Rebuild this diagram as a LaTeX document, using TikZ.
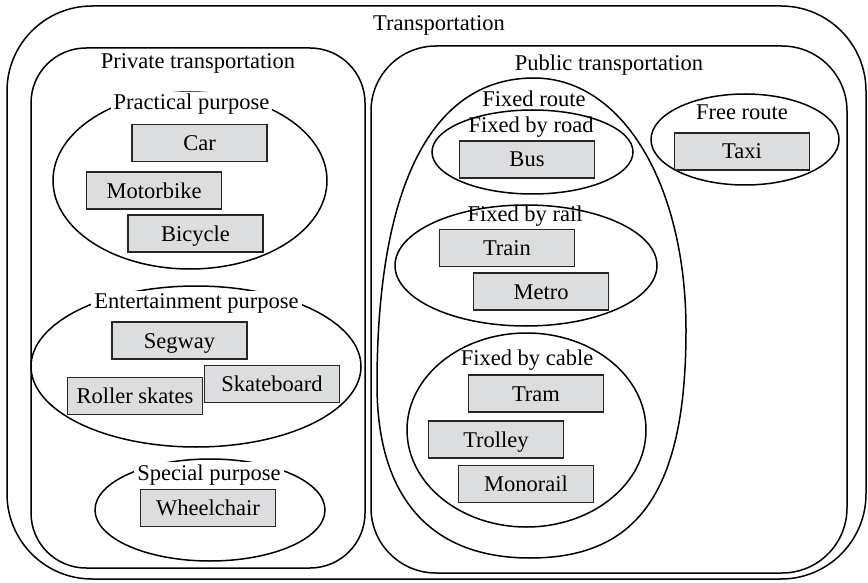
\documentclass[tikz,border=0pt]{standalone}
\usepackage{fontspec}
\setmainfont{Liberation Serif}
\usetikzlibrary{shapes.geometric}
\definecolor{boxgray}{RGB}{220,221,223}
\newcommand\lblfont{\fontsize{22.5}{27}\selectfont}
\begin{document}
\begin{tikzpicture}[x=1pt,y=-1pt,
  frame/.style={draw=black,line width=1.5pt},
  group/.style={ellipse,draw=black,line width=1.5pt,inner sep=0pt},
  item/.style={rectangle,draw=black!85,fill=boxgray,line width=1.8pt,
    minimum width=135pt,minimum height=37pt,inner sep=0pt,
    text height=15pt,text depth=0pt,font=\lblfont},
  title/.style={anchor=base,inner sep=0pt,font=\lblfont},
  cut/.style={anchor=base,fill=white,inner xsep=3pt,inner ysep=2pt,font=\lblfont}]
\useasboundingbox (0,0) rectangle (868,583);

% outer containers
\draw[frame,rounded corners=85pt] (7,6) rectangle (866,579);
\draw[frame,rounded corners=55pt] (31,48) rectangle (365,568);
\draw[frame,rounded corners=65pt] (371,46) rectangle (847,573);

\node[title] (ttrans) at (439,31) {Transportation};
\node[title] (tpriv) at (198,69) {Private transportation};
\node[title] (tpub) at (609,70.5) {Public transportation};

% private transportation groups
\node[group,minimum width=274pt,minimum height=177pt] (practical) at (190,180.5) {};
\node[group,minimum width=330pt,minimum height=161pt] (entertain) at (196,366.5) {};
\node[group,minimum width=230pt,minimum height=102pt] (special) at (210,510) {};
\node[cut] (tpractical) at (191.5,110) {Practical purpose};
\node[cut] (tentertain) at (196.5,308) {Entertainment purpose};
\node[cut] (tspecial) at (209,480) {Special purpose};

\node[item] (car) at (199.5,143) {Car};
\node[item] (motorbike) at (154,190.5) {Motorbike};
\node[item] (bicycle) at (195.5,233.5) {Bicycle};
\node[item] (segway) at (179.5,340.5) {Segway};
\node[item] (roller) at (135,396) {Roller skates};
\node[item] (skateboard) at (272,384) {Skateboard};
\node[item] (wheelchair) at (208,508) {Wheelchair};

% public transportation groups
\draw[line width=1.5pt] (534,78)
  .. controls (432,78) and (377,185) .. (377,385)
  .. controls (377,497.5) and (430.5,558) .. (530,558)
  .. controls (639,558) and (686,490) .. (686,330)
  .. controls (686,184) and (622,78) .. (534,78) -- cycle;
\node[group,minimum width=201pt,minimum height=84pt] (road) at (532.5,152) {};
\node[group,minimum width=262pt,minimum height=121pt] (rail) at (526,265.5) {};
\node[group,minimum width=239pt,minimum height=194pt] (cable) at (526.5,430) {};
\node[group,minimum width=188pt,minimum height=91pt] (free) at (745,139.5) {};

\node[title] (tfixed) at (534,106.5) {Fixed route};
\node[title] (troad) at (531,133) {Fixed by road};
\node[title] (trail) at (525,221.5) {Fixed by rail};
\node[title] (tcable) at (527,365) {Fixed by cable};
\node[title] (tfree) at (742,120) {Free route};

\node[item] (bus) at (527,159.5) {Bus};
\node[item] (train) at (507,248) {Train};
\node[item] (metro) at (541,291.5) {Metro};
\node[item] (tram) at (536,393.5) {Tram};
\node[item] (trolley) at (496,439.5) {Trolley};
\node[item] (monorail) at (526,484) {Monorail};
\node[item] (taxi) at (742,151.5) {Taxi};
\end{tikzpicture}
\end{document}
